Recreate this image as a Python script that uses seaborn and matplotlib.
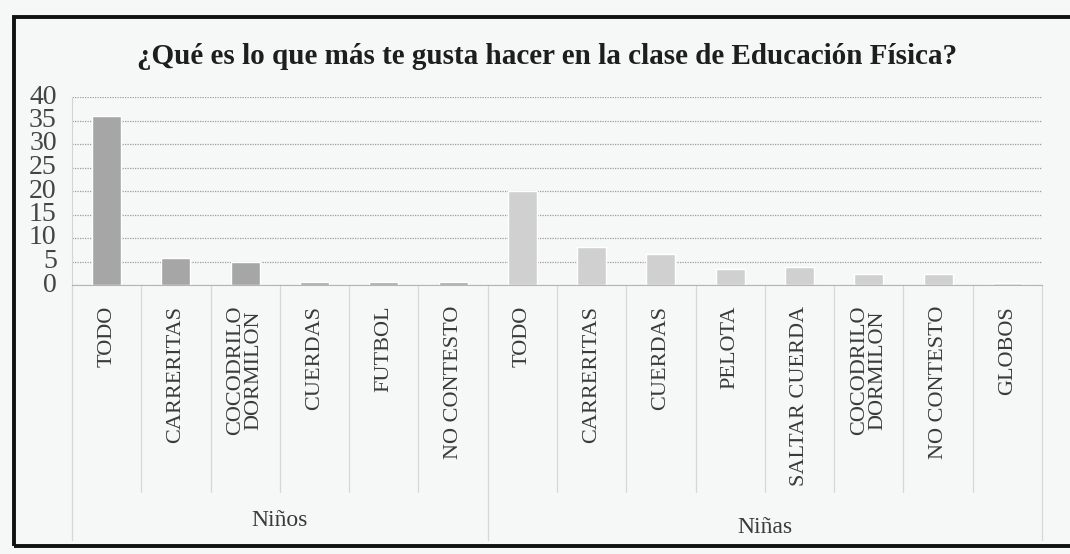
import numpy as np
import pandas as pd
import seaborn as sns
import matplotlib.pyplot as plt
from matplotlib.patches import Rectangle
import matplotlib.transforms as mtransforms

# Data
ninos_labels = ['TODO', 'CARRERITAS', 'COCODRILO\nDORMILON', 'CUERDAS', 'FUTBOL', 'NO CONTESTO']
ninos_values = [36, 5.8, 4.8, 0.7, 0.7, 0.7]
ninas_labels = ['TODO', 'CARRERITAS', 'CUERDAS', 'PELOTA', 'SALTAR CUERDA',
                'COCODRILO\nDORMILON', 'NO CONTESTO', 'GLOBOS']
ninas_values = [20, 8, 6.6, 3.4, 3.8, 2.4, 2.3, 0.5]
groups = ['Niños', 'Niñas']

df = pd.DataFrame({
    'grupo': ['Niños'] * len(ninos_labels) + ['Niñas'] * len(ninas_labels),
    'actividad': ninos_labels + ninas_labels,
    'valor': ninos_values + ninas_values,
})
df['key'] = df['grupo'] + ' ' + df['actividad']

sns.set_style('white')
plt.rcParams['font.family'] = ['Liberation Serif', 'DejaVu Serif']

bg = '#f6f7f7'
fig = plt.figure(figsize=(10.7, 5.54), dpi=100, facecolor=bg)
ax = fig.add_axes([72 / 1070, 1 - 285 / 554, (1042 - 72) / 1070, (285 - 97) / 554])
ax.set_facecolor(bg)

sns.barplot(data=df, x='key', y='valor', hue='grupo', order=list(df['key']),
            palette={'Niños': '#a6a6a6', 'Niñas': '#d0d0d0'}, dodge=False,
            width=0.42, legend=False, ax=ax)

ax.set_ylim(0, 40)
ax.set_yticks(np.arange(0, 41, 5))
ax.set_xlim(-0.5, len(df) - 0.5)
ax.yaxis.grid(True, linestyle=(0, (1, 1)), color='#9c9c9c', linewidth=0.9)
ax.set_axisbelow(True)
for s in ['top', 'right']:
    ax.spines[s].set_visible(False)
ax.spines['left'].set_color('#d4d4d4')
ax.spines['bottom'].set_color('#b5b5b5')
ax.set_xlabel('')
ax.set_ylabel('')
ax.tick_params(axis='y', length=0, pad=11, labelsize=20, labelcolor='#444444')
ax.tick_params(axis='x', length=0, pad=15, labelsize=16, labelcolor='#3a3a3a')
ax.set_xticks(range(len(df)))
ax.set_xticklabels(df['actividad'], rotation=90, ha='center', va='top',
                   multialignment='center', linespacing=0.95)
for lbl in ax.get_yticklabels():
    lbl.set_verticalalignment('center')

# two-level category axis
trans = mtransforms.blended_transform_factory(ax.transData, ax.transAxes)
bounds_outer = [-0.5, len(ninos_labels) - 0.5, len(df) - 0.5]
for i in range(len(df) + 1):
    x = i - 0.5
    depth = -1.36 if x in bounds_outer else -1.1
    ax.plot([x, x], [0, depth], transform=trans, color='#c4c4c4', lw=0.9,
            linestyle=(0, (1, 0.6)), clip_on=False)

ax.text((len(ninos_labels) - 1) / 2, -1.25, groups[0], transform=trans,
        ha='center', va='center', fontsize=17, color='#3a3a3a')
ax.text(len(ninos_labels) + (len(ninas_labels) - 1) / 2, -1.29, groups[1], transform=trans,
        ha='center', va='center', fontsize=17, color='#3a3a3a')

fig.text(0.511, 1 - 56 / 554, '¿Qué es lo que más te gusta hacer en la clase de Educación Física?',
         ha='center', va='center', fontsize=21, fontweight='bold', color='#1e1e1e')

# chart border (right side runs off the scan)
fig.patches.append(Rectangle((14 / 1070, 1 - 546 / 554), 1.2, (546 - 17) / 554,
                             transform=fig.transFigure, fill=False, edgecolor='#111111', lw=2.8))

fig.savefig('out.png', dpi=100, facecolor=bg)
